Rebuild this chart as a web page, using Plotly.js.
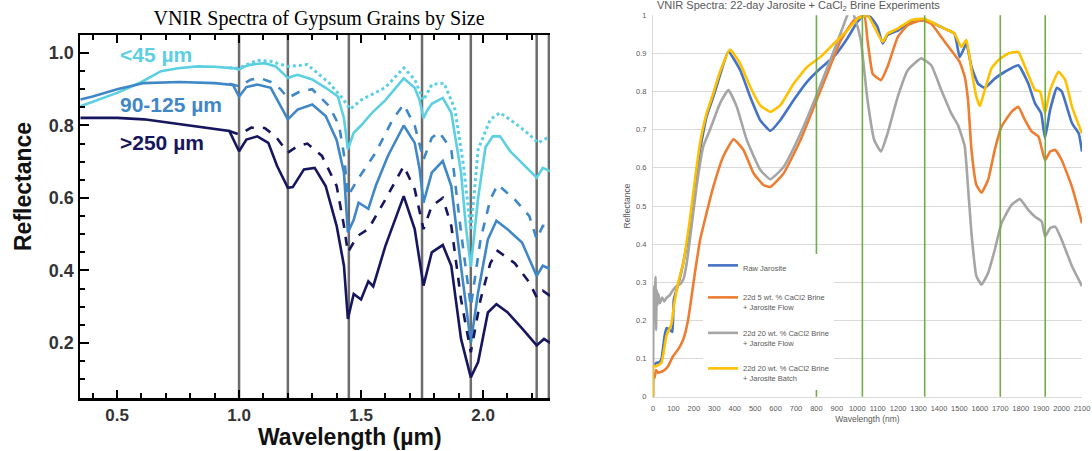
<!DOCTYPE html>
<html>
<head>
<meta charset="utf-8">
<script src="https://cdn.plot.ly/plotly-3.0.1.min.js"></script>
<style>html,body{margin:0;padding:0;background:#fff;}#chart{width:1092px;height:451px;}</style>
</head>
<body>
<div id="chart"></div>
<script>
// ---------- Left chart: gypsum grain sizes (wavelength in µm) ----------
const g45SolidX = [0.35,0.40,0.45,0.50,0.55,0.60,0.68,0.75,0.83,0.90,0.96,0.98,1.00,1.02,1.05,1.105,1.15,1.18,1.20,1.22,1.24,1.30,1.355,1.405,1.43,1.446,1.47,1.50,1.545,1.60,1.675,1.72,1.74,1.756,1.77,1.79,1.835,1.87,1.91,1.93,1.95,1.98,2.01,2.04,2.07,2.11,2.17,2.22,2.245,2.275];
const g45SolidY = [0.853,0.865,0.878,0.89,0.905,0.92,0.95,0.958,0.963,0.962,0.959,0.958,0.954,0.962,0.968,0.972,0.963,0.945,0.931,0.936,0.94,0.927,0.904,0.88,0.82,0.734,0.78,0.80,0.835,0.87,0.93,0.904,0.87,0.82,0.84,0.86,0.876,0.835,0.67,0.52,0.41,0.60,0.74,0.77,0.77,0.73,0.69,0.656,0.683,0.674];
const g45DotX = [0.96,1.00,1.02,1.075,1.13,1.17,1.20,1.28,1.37,1.43,1.455,1.50,1.60,1.675,1.72,1.756,1.79,1.84,1.885,1.92,1.95,1.98,2.03,2.07,2.13,2.19,2.225,2.275];
const g45DotY = [0.959,0.958,0.965,0.98,0.977,0.97,0.963,0.968,0.917,0.87,0.845,0.87,0.905,0.959,0.927,0.87,0.913,0.917,0.845,0.69,0.51,0.734,0.817,0.835,0.807,0.775,0.752,0.77];
const g90SolidX = [0.35,0.40,0.50,0.61,0.755,0.90,0.975,1.00,1.03,1.075,1.13,1.165,1.20,1.24,1.30,1.355,1.40,1.43,1.446,1.47,1.49,1.53,1.56,1.61,1.675,1.72,1.74,1.756,1.79,1.835,1.87,1.91,1.95,1.98,2.02,2.055,2.10,2.16,2.22,2.245,2.275];
const g90SolidY = [0.872,0.88,0.90,0.917,0.92,0.917,0.912,0.88,0.906,0.913,0.904,0.862,0.817,0.844,0.858,0.826,0.76,0.67,0.505,0.54,0.587,0.57,0.633,0.716,0.80,0.752,0.68,0.587,0.67,0.702,0.633,0.41,0.20,0.34,0.486,0.537,0.514,0.477,0.385,0.413,0.404];
const g90DashX = [0.96,1.00,1.05,1.09,1.13,1.17,1.20,1.25,1.30,1.37,1.41,1.43,1.446,1.485,1.56,1.63,1.675,1.72,1.756,1.79,1.82,1.87,1.91,1.95,1.99,2.03,2.06,2.13,2.19,2.22,2.245,2.275];
const g90DashY = [0.915,0.908,0.927,0.93,0.92,0.90,0.876,0.894,0.90,0.853,0.80,0.72,0.605,0.65,0.725,0.817,0.858,0.80,0.706,0.766,0.782,0.734,0.505,0.30,0.486,0.596,0.637,0.596,0.55,0.486,0.523,0.52];
const g250SolidX = [0.35,0.50,0.61,0.755,0.90,0.96,1.00,1.03,1.075,1.12,1.156,1.20,1.22,1.266,1.31,1.355,1.40,1.43,1.446,1.47,1.50,1.53,1.55,1.60,1.675,1.72,1.756,1.79,1.835,1.87,1.91,1.95,1.98,2.02,2.055,2.10,2.16,2.22,2.25,2.275];
const g250SolidY = [0.821,0.821,0.817,0.803,0.79,0.785,0.729,0.761,0.77,0.752,0.688,0.628,0.63,0.679,0.683,0.633,0.523,0.413,0.266,0.335,0.32,0.37,0.356,0.468,0.605,0.514,0.358,0.45,0.47,0.413,0.211,0.105,0.147,0.284,0.307,0.285,0.24,0.193,0.211,0.20];
const g250DashX = [0.96,1.00,1.05,1.105,1.15,1.20,1.24,1.28,1.34,1.40,1.43,1.446,1.485,1.53,1.60,1.675,1.72,1.756,1.79,1.835,1.87,1.91,1.95,1.99,2.03,2.06,2.13,2.19,2.22,2.245,2.275];
const g250DashY = [0.785,0.775,0.794,0.793,0.77,0.725,0.743,0.75,0.716,0.633,0.523,0.45,0.495,0.514,0.596,0.688,0.624,0.514,0.578,0.60,0.523,0.32,0.174,0.32,0.42,0.454,0.42,0.367,0.326,0.344,0.33];
const gypsumBands = [1.0, 1.2, 1.45, 1.75, 1.95, 2.22, 2.27];
const gypsumLabels = ['<45 µm', '90-125 µm', '>250 µm'];
const gypsumLabelY = [0.995, 0.857, 0.752];

// ---------- Right chart: jarosite + CaCl2 brine (wavelength in nm) ----------
const rawX = [0,10,16,30,41,57,66,82,90,95,102,123,148,180,205,230,262,295,328,369,427,476,525,574,623,689,755,820,886,952,1001,1034,1066,1099,1124,1148,1198,1263,1329,1378,1427,1476,1501,1518,1534,1559,1591,1624,1673,1723,1788,1837,1870,1900,1919,1944,1977,2001,2051,2084,2100];
const rawY = [0.08,0.085,0.089,0.09,0.098,0.16,0.18,0.176,0.172,0.17,0.255,0.294,0.35,0.446,0.542,0.647,0.734,0.786,0.843,0.905,0.856,0.786,0.725,0.697,0.725,0.778,0.826,0.861,0.892,0.94,0.983,1.0,0.995,0.97,0.926,0.948,0.96,0.983,0.987,0.978,0.965,0.952,0.89,0.908,0.926,0.865,0.821,0.81,0.834,0.852,0.869,0.821,0.769,0.743,0.678,0.752,0.81,0.80,0.717,0.69,0.643];
const cacl5FlowX = [0,2,8,15,25,49,74,98,123,148,172,205,230,262,295,344,394,443,492,541,574,640,722,788,853,919,984,1034,1050,1075,1100,1116,1148,1198,1247,1313,1362,1411,1460,1501,1526,1542,1559,1583,1608,1640,1673,1706,1755,1788,1821,1854,1887,1919,1944,1969,2001,2051,2100];
const cacl5FlowY = [0,0.06,0.05,0.07,0.063,0.067,0.08,0.106,0.124,0.15,0.202,0.324,0.41,0.481,0.55,0.63,0.675,0.647,0.586,0.555,0.55,0.586,0.673,0.76,0.847,0.934,0.987,1.0,0.935,0.847,0.835,0.83,0.865,0.943,0.974,0.987,0.978,0.943,0.908,0.878,0.839,0.778,0.647,0.555,0.535,0.568,0.647,0.708,0.747,0.76,0.725,0.695,0.682,0.62,0.643,0.647,0.62,0.55,0.455];
const cacl20FlowX = [0,2,5,8,12,15,18,22,26,34,45,55,67,80,99,115,132,150,165,180,213,246,279,328,369,410,459,525,574,640,722,804,886,930,960,975,990,1017,1050,1083,1116,1148,1198,1247,1313,1362,1411,1460,1493,1526,1542,1559,1583,1608,1640,1673,1706,1755,1796,1837,1870,1903,1919,1944,1969,2001,2051,2100];
const cacl20FlowY = [0,0.26,0.29,0.25,0.314,0.175,0.28,0.24,0.27,0.245,0.26,0.25,0.26,0.265,0.28,0.29,0.295,0.31,0.35,0.41,0.55,0.656,0.70,0.769,0.804,0.76,0.673,0.595,0.57,0.603,0.69,0.795,0.908,0.97,1.01,1.01,0.99,0.935,0.778,0.673,0.643,0.69,0.786,0.856,0.887,0.869,0.804,0.743,0.712,0.656,0.55,0.428,0.316,0.294,0.324,0.385,0.455,0.503,0.518,0.49,0.472,0.459,0.42,0.442,0.446,0.411,0.342,0.29];
const cacl20BatchX = [0,2,16,41,66,90,102,123,148,180,205,230,262,295,328,377,427,476,525,574,623,689,755,820,886,952,1001,1050,1083,1124,1148,1198,1263,1329,1378,1427,1476,1509,1534,1559,1583,1600,1624,1657,1690,1739,1788,1821,1870,1895,1919,1944,1985,2018,2051,2100];
const cacl20BatchY = [0,0.08,0.08,0.089,0.16,0.19,0.237,0.298,0.35,0.462,0.568,0.664,0.742,0.795,0.852,0.91,0.873,0.812,0.764,0.747,0.764,0.821,0.865,0.891,0.926,0.961,0.991,1.0,0.97,0.93,0.952,0.965,0.987,0.991,0.978,0.965,0.952,0.917,0.935,0.856,0.786,0.762,0.804,0.861,0.882,0.90,0.904,0.865,0.804,0.80,0.743,0.804,0.852,0.83,0.76,0.69];
const seriesNames = ['Raw Jarosite', '22d 5 wt. % CaCl2 Brine<br>+ Jarosite Flow', '22d 20 wt. % CaCl2 Brine<br>+ Jarosite Flow', '22d 20 wt. % CaCl2 Brine<br>+ Jarosite Batch'];
const jarositeBands = [800, 1025, 1330, 1700, 1920];

// ---------- colours ----------
const cCyan = '#5ccfe2', cMid = '#3f87c6', cNavy = '#16165e';
const cBlue = '#4472C4', cOrange = '#ED7D31', cGray = '#A5A5A5', cYellow = '#FFC000';

const L = (x, y, color, dash, w) => ({x, y, type:'scatter', mode:'lines', xaxis:'x', yaxis:'y', showlegend:false, hoverinfo:'skip',
  line:{color, dash, width:w}});
const R = (x, y, color, name) => ({x, y, name, type:'scatter', mode:'lines', xaxis:'x2', yaxis:'y2', legendgroup:name,
  line:{color, width:2.6, shape:'spline', smoothing:0.4}});

const traces = [
  L(g45DotX, g45DotY, cCyan, 'dot', 3),
  L(g45SolidX, g45SolidY, cCyan, 'solid', 2.6),
  L(g90DashX, g90DashY, cMid, 'dash', 2.6),
  L(g90SolidX, g90SolidY, cMid, 'solid', 2.6),
  L(g250DashX, g250DashY, cNavy, 'dash', 2.6),
  L(g250SolidX, g250SolidY, cNavy, 'solid', 2.6),
  R(rawX, rawY, cBlue, seriesNames[0]),
  R(cacl5FlowX, cacl5FlowY, cOrange, seriesNames[1]),
  R(cacl20FlowX, cacl20FlowY, cGray, seriesNames[2]),
  R(cacl20BatchX, cacl20BatchY, cYellow, seriesNames[3])
];

const shapes = [];
gypsumBands.forEach(b => shapes.push({type:'line', xref:'x', yref:'y domain', x0:b, x1:b, y0:0, y1:1, layer:'below',
  line:{color:'#6c6c6c', width:2.5}}));
jarositeBands.forEach(b => shapes.push({type:'line', xref:'x2', yref:'y2 domain', x0:b, x1:b, y0:0, y1:1, layer:'above',
  line:{color:'#70AD47', width:1.6}}));

const boldFont = {family:'Liberation Sans, Arial', weight:'bold'};
const labelColors = [cCyan, cMid, cNavy];
const annotations = gypsumLabels.map((t, i) => ({text:t, xref:'x', yref:'y', x:0.505, y:gypsumLabelY[i], xanchor:'left', yanchor:'middle',
  showarrow:false, font:Object.assign({size:21, color:labelColors[i]}, boldFont)}));
annotations.push({text:'Wavelength (µm)', xref:'paper', yref:'paper', x:350/1092, y:1-437/451, xanchor:'center', yanchor:'middle',
  showarrow:false, font:Object.assign({size:23, color:'#111'}, boldFont)});
annotations.push({text:'Reflectance', xref:'paper', yref:'paper', x:23/1092, y:1-187/451, xanchor:'center', yanchor:'middle',
  textangle:-90, showarrow:false, font:Object.assign({size:23, color:'#111'}, boldFont)});
annotations.push({text:'VNIR Spectra: 22-day Jarosite + CaCl<sub>2</sub> Brine Experiments', xref:'paper', yref:'paper',
  x:655/1092, y:1-6/451, xanchor:'left', yanchor:'middle', showarrow:false,
  font:{family:'Liberation Sans, Arial', size:11, color:'#595959'}});

const layout = {
  width:1092, height:451, margin:{l:0, r:0, t:0, b:0},
  paper_bgcolor:'#fff', plot_bgcolor:'#fff', showlegend:true,
  title:{text:'VNIR Spectra of Gypsum Grains by Size', x:319/1092, xanchor:'center', y:1-18/451, yanchor:'middle',
    font:{family:'Liberation Serif, Times New Roman', size:20, color:'#000'}},
  xaxis:{domain:[80/1092, 550/1092], anchor:'y', range:[0.348, 2.2746], tick0:0, dtick:0.5, tickformat:'.1f',
    ticks:'inside', ticklen:8, tickwidth:2, tickcolor:'#000', showline:true, linecolor:'#000', linewidth:2.5, mirror:'allticks',
    showgrid:false, zeroline:false,
    minor:{dtick:0.1, tick0:0, ticks:'inside', ticklen:5, tickwidth:2, tickcolor:'#000', showgrid:false},
    tickfont:Object.assign({size:17, color:'#333'}, boldFont)},
  yaxis:{domain:[1-398/451, 1-35/451], anchor:'x', range:[0.048, 1.0497], tick0:0, dtick:0.2, tickformat:'.1f',
    ticks:'inside', ticklen:9, tickwidth:2, tickcolor:'#000', showline:true, linecolor:'#000', linewidth:2.5, mirror:false,
    showgrid:false, zeroline:false,
    minor:{dtick:0.05, tick0:0, ticks:'inside', ticklen:5, tickwidth:2, tickcolor:'#000', showgrid:false},
    tickfont:Object.assign({size:18, color:'#333'}, boldFont)},
  xaxis2:{domain:[653/1092, 1082/1092], anchor:'y2', range:[0, 2100], tick0:0, dtick:100, ticks:'',
    showline:true, linecolor:'#D9D9D9', linewidth:1, showgrid:false, zeroline:false, ticklabelstandoff:4,
    tickfont:{family:'Liberation Sans, Arial', size:7.5, color:'#595959'},
    title:{text:'Wavelength (nm)', standoff:4, font:{family:'Liberation Sans, Arial', size:8.5, color:'#595959'}}},
  yaxis2:{domain:[1-396.7/451, 1-15.3/451], anchor:'x2', range:[0, 1], tick0:0, dtick:0.1, ticks:'',
    showline:true, linecolor:'#D9D9D9', linewidth:1, showgrid:true, gridcolor:'#D9D9D9', gridwidth:1, zeroline:false,
    tickfont:{family:'Liberation Sans, Arial', size:7.5, color:'#595959'}, ticklabelstandoff:4,
    title:{text:'Reflectance', standoff:4, font:{family:'Liberation Sans, Arial', size:8.5, color:'#595959'}}},
  legend:{x:703/1092, y:1-254/451, xanchor:'left', yanchor:'top', bgcolor:'#fff', borderwidth:0, valign:'top',
    tracegroupgap:13, font:{family:'Liberation Sans, Arial', size:7.5, color:'#595959'}},
  shapes, annotations
};

Plotly.newPlot('chart', traces, layout, {displayModeBar:false, staticPlot:true});
</script>
</body>
</html>
